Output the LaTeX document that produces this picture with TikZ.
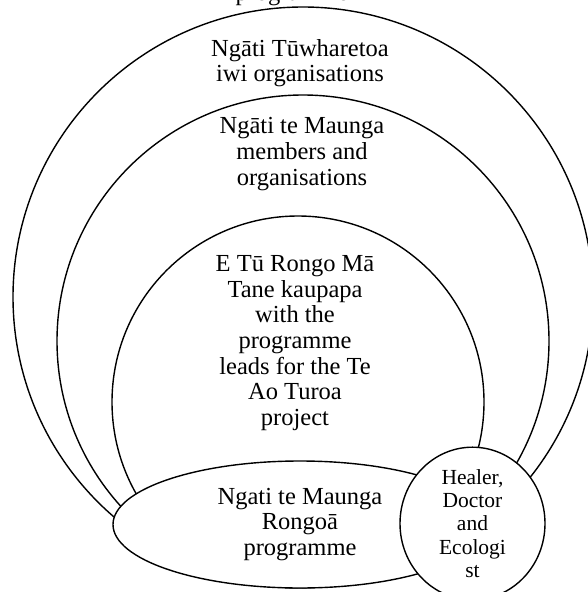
\documentclass[tikz,border=0pt]{standalone}
\usepackage{fontspec}
\setmainfont{Liberation Serif}
\usetikzlibrary{shapes.geometric}
\begin{document}
\begin{tikzpicture}[x=1pt,y=-1pt,
  ring/.style={circle, draw, fill=white, line width=1.4pt, inner sep=0pt},
  oval/.style={ellipse, draw, fill=white, line width=1.4pt, inner sep=0pt, align=center},
  lbl/.style={align=center, font=\fontsize{24.5}{25.7}\selectfont, inner sep=0pt},
  small/.style={font=\fontsize{21.5}{23.2}\selectfont},
  ]
\useasboundingbox (0,0) rectangle (588,592);
\begin{scope}
\clip (0,0) rectangle (588,592);
\node[lbl, anchor=base] (toptext) at (292,0) {programme};
\node[ring, minimum size=580pt] (outer) at (303,297) {};
\node[ring, minimum size=492pt] (middle) at (303,341) {};
\node[ring, minimum size=372pt] (inner) at (298,402) {};
\node[oval, lbl, minimum width=374pt, minimum height=127pt] (rongoa) at (300,524.5)
  {Ngati te Maunga\\Rongoā\\programme};
\node[oval, lbl, small, minimum width=145pt, minimum height=133pt] (healer) at (472.5,523.5)
  {Healer,\\Doctor\\and\\Ecologi\\st};
\node[lbl] (outertext) at (300,63) {Ngāti Tūwharetoa\\iwi organisations};
\node[lbl] (middletext) at (302,154) {Ngāti te Maunga\\members and\\organisations};
\node[lbl] (innertext) at (295,343) {E Tū Rongo Mā\\Tane kaupapa\\with the\\programme\\leads for the Te\\Ao Turoa\\project};
\end{scope}
\end{tikzpicture}
\end{document}
